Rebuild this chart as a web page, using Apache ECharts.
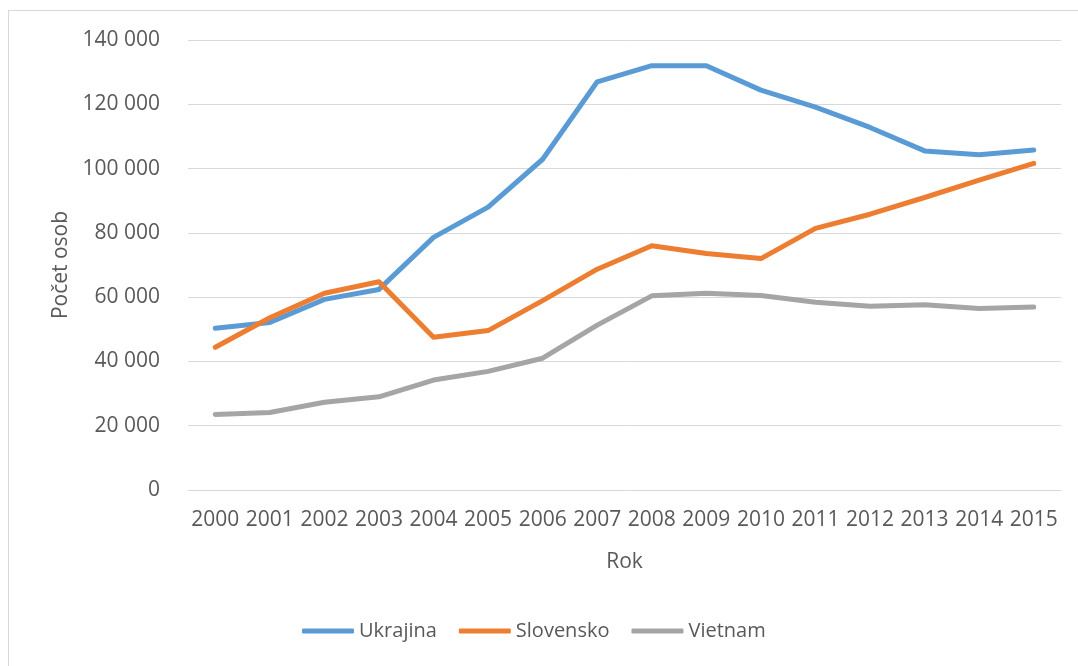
<!DOCTYPE html>
<html>
<head>
<meta charset="utf-8">
<script src="https://cdn.jsdelivr.net/npm/echarts@6/dist/echarts.min.js"></script>
<style>
  html, body { margin: 0; padding: 0; background: #fff; }
  #frame { position: absolute; left: 8px; top: 10px; width: 1100px; height: 700px; border: 1px solid #d9d9d9; box-sizing: border-box; }
  #main { position: absolute; left: 0; top: 0; width: 1078px; height: 666px; }
</style>
</head>
<body>
<div id="frame"></div>
<div id="main"></div>
<script>
var years = ['2000','2001','2002','2003','2004','2005','2006','2007','2008','2009','2010','2011','2012','2013','2014','2015'];
var ukrajina  = [50300, 52100, 59300, 62400, 78600, 88000, 102900, 127000, 132000, 132000, 124400, 119100, 112800, 105500, 104300, 105800];
var slovensko = [44400, 53600, 61200, 64800, 47500, 49600, 58900, 68700, 76000, 73600, 72000, 81400, 85800, 91000, 96400, 101600];
var vietnam   = [23500, 24100, 27300, 29000, 34200, 36900, 41000, 51300, 60400, 61200, 60500, 58400, 57200, 57600, 56500, 56900];

var font = '"Open Sans", sans-serif';
var txt = '#595959';

function line(name, data, color) {
  return {
    name: name,
    type: 'line',
    data: data,
    showSymbol: false,
    symbol: 'none',
    color: color,
    lineStyle: { width: 5, color: color, cap: 'round', join: 'round' }
  };
}

var myChart = echarts.init(document.getElementById('main'), null, { renderer: 'canvas' });
myChart.setOption({
  animation: false,
  grid: { left: 188, right: 17, top: 40, bottom: 176, containLabel: false },
  xAxis: {
    type: 'category',
    data: years,
    boundaryGap: true,
    name: 'Rok',
    nameLocation: 'middle',
    nameGap: 62,
    nameTextStyle: { fontFamily: font, fontSize: 21, color: txt },
    axisLine: { lineStyle: { color: '#d9d9d9', width: 1 } },
    axisTick: { show: false },
    axisLabel: { fontFamily: font, fontSize: 21, color: txt, margin: 20, interval: 0 }
  },
  yAxis: {
    type: 'value',
    min: 0,
    max: 140000,
    interval: 20000,
    name: 'Počet osob',
    nameLocation: 'middle',
    nameGap: 116,
    nameRotate: 90,
    nameTextStyle: { fontFamily: font, fontSize: 21, color: txt },
    axisLine: { show: false },
    axisTick: { show: false },
    splitLine: { lineStyle: { color: '#d9d9d9', width: 1 } },
    axisLabel: {
      fontFamily: font, fontSize: 21, color: txt, margin: 28,
      formatter: function (v) { return String(v).replace(/\B(?=(\d{3})+(?!\d))/g, ' '); }
    }
  },
  legend: {
    bottom: 25,
    left: 302,
    padding: 0,
    icon: 'roundRect',
    itemWidth: 52,
    itemHeight: 5,
    itemGap: 22,
    textStyle: { fontFamily: font, fontSize: 20, color: txt },
    data: ['Ukrajina', 'Slovensko', 'Vietnam']
  },
  series: [
    line('Ukrajina', ukrajina, '#5b9bd5'),
    line('Slovensko', slovensko, '#ed7d31'),
    line('Vietnam', vietnam, '#a5a5a5')
  ]
});
</script>
</body>
</html>
